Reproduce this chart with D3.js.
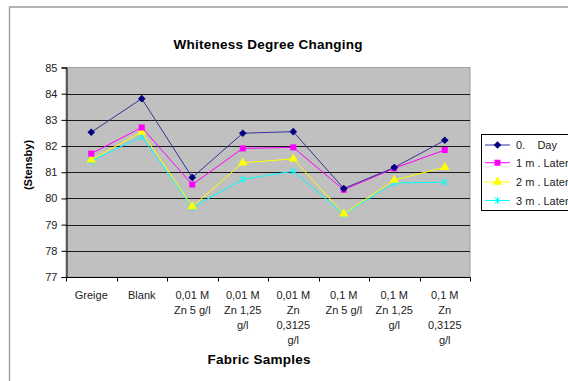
<!DOCTYPE html>
<html><head><meta charset="utf-8">
<script src="https://cdn.jsdelivr.net/npm/d3@7"></script>
<style>
html,body{margin:0;padding:0;background:#fff;overflow:hidden}
svg{display:block;font-family:"Liberation Sans",Arial,sans-serif}
</style></head>
<body>
<svg id="chart" width="568" height="381"></svg>
<script>
// Fabric samples (multi-line category labels)
const categories = [
  ["Greige"],
  ["Blank"],
  ["0,01 M", "Zn 5 g/l"],
  ["0,01 M", "Zn 1,25", "g/l"],
  ["0,01 M", "Zn", "0,3125", "g/l"],
  ["0,1 M", "Zn 5 g/l"],
  ["0,1 M", "Zn 1,25", "g/l"],
  ["0,1 M", "Zn", "0,3125", "g/l"]
];
const day0   = [82.53, 83.81, 80.80, 82.49, 82.55, 80.38, 81.18, 82.22];
const month1 = [81.71, 82.71, 80.53, 81.91, 81.95, 80.33, 81.15, 81.85];
const month2 = [81.48, 82.54, 79.69, 81.36, 81.51, 79.41, 80.70, 81.19];
const month3 = [81.43, 82.36, 79.65, 80.73, 81.04, 79.40, 80.59, 80.62];
const seriesNames = ["0.    Day", "1 m . Later", "2 m . Later", "3 m . Later"];
const yTicks = [77, 78, 79, 80, 81, 82, 83, 84, 85];

const series = [
  {name: seriesNames[0], values: day0,   line: "#333399", fill: "#000080", shape: "diamond"},
  {name: seriesNames[1], values: month1, line: "#ff00ff", fill: "#ff00ff", shape: "square"},
  {name: seriesNames[2], values: month2, line: "#ffff00", fill: "#ffff00", shape: "triangle"},
  {name: seriesNames[3], values: month3, line: "#00ffff", fill: "#00ffff", shape: "x"}
];

const svg = d3.select("#chart");
const plot = {left: 66, right: 470, top: 67.5, bottom: 277};

// outer chart frame
svg.append("path").attr("d", "M9.5,381 V7 H568").attr("fill", "none")
  .attr("stroke", "#9a9a9a").attr("stroke-width", 1.3);

const x = d3.scaleBand().domain(d3.range(categories.length))
  .range([plot.left, plot.right]).padding(0);
const y = d3.scaleLinear().domain([77, 85]).range([plot.bottom, plot.top]);

// plot area
svg.append("rect").attr("x", plot.left).attr("y", plot.top)
  .attr("width", plot.right - plot.left).attr("height", plot.bottom - plot.top)
  .attr("fill", "#c0c0c0").attr("stroke", "#a0a0a0").attr("stroke-width", 1);

// gridlines
svg.append("g").selectAll("line").data(yTicks.filter(t => t > 77 && t < 85)).join("line")
  .attr("x1", plot.left).attr("x2", plot.right)
  .attr("y1", d => Math.round(y(d)) + 0.5).attr("y2", d => Math.round(y(d)) + 0.5)
  .attr("stroke", "#1a1a1a").attr("stroke-width", 1);

// y axis
const yAxis = svg.append("g").attr("transform", `translate(${plot.left + 0.5},0)`)
  .call(d3.axisLeft(y).tickValues(yTicks).tickSize(5).tickPadding(4));
yAxis.select(".domain").attr("stroke", "#000");
yAxis.selectAll(".tick line").attr("stroke", "#000");
yAxis.selectAll(".tick text").attr("font-size", 11).attr("fill", "#222")
  .attr("font-family", "Liberation Sans, Arial, sans-serif");

// x axis with ticks at category boundaries
const xAxisG = svg.append("g").attr("transform", `translate(0,${plot.bottom + 0.5})`);
xAxisG.append("line").attr("x1", plot.left).attr("x2", plot.right + 0.5)
  .attr("stroke", "#000");
xAxisG.selectAll("line.tk").data(d3.range(categories.length + 1)).join("line")
  .attr("class", "tk")
  .attr("x1", i => Math.round(plot.left + i * x.bandwidth()) + 0.5)
  .attr("x2", i => Math.round(plot.left + i * x.bandwidth()) + 0.5)
  .attr("y1", 0).attr("y2", 4).attr("stroke", "#000");
const xl = xAxisG.selectAll("text.cat").data(categories).join("text")
  .attr("class", "cat")
  .attr("text-anchor", "middle").attr("font-size", 11).attr("fill", "#222");
xl.each(function (lines, i) {
  d3.select(this).selectAll("tspan").data(lines).join("tspan")
    .attr("x", x(i) + x.bandwidth() / 2)
    .attr("y", (d, j) => 21.5 + j * 15)
    .text(d => d);
});

// lines and markers
const lineGen = d3.line().x((d, i) => x(i) + x.bandwidth() / 2).y(d => y(d));
const sym = {
  diamond: "M0,-3.8L3.8,0L0,3.8L-3.8,0Z",
  square: d3.symbol().type(d3.symbolSquare).size(36)(),
  triangle: d3.symbol().type(d3.symbolTriangle).size(38)()
};
function drawMarker(g, s, cx, cy) {
  if (s.shape === "x") {
    g.append("path").attr("transform", `translate(${cx},${cy})`)
      .attr("d", "M-3,-3L3,3M-3,3L3,-3M0,-3.5V3.5")
      .attr("stroke", s.fill).attr("stroke-width", 1).attr("fill", "none");
  } else {
    g.append("path").attr("transform", `translate(${cx},${cy})`)
      .attr("d", sym[s.shape]).attr("fill", s.fill);
  }
}
// later series first so day 0 stays on top
series.slice().reverse().forEach(s => {
  const g = svg.append("g");
  g.append("path").datum(s.values).attr("d", lineGen)
    .attr("fill", "none").attr("stroke", s.line).attr("stroke-width", 1);
  s.values.forEach((v, i) => drawMarker(g, s, x(i) + x.bandwidth() / 2, y(v)));
});

// titles
svg.append("text").attr("x", 268).attr("y", 49).attr("text-anchor", "middle")
  .attr("font-size", 13.5).attr("font-weight", "bold")
  .attr("textLength", 189).attr("lengthAdjust", "spacing")
  .text("Whiteness Degree Changing");
svg.append("text").attr("transform", "translate(32,165) rotate(-90)")
  .attr("text-anchor", "middle").attr("font-size", 11).attr("font-weight", "bold")
  .text("(Stensby)");
svg.append("text").attr("x", 259).attr("y", 364).attr("text-anchor", "middle")
  .attr("font-size", 13.5).attr("font-weight", "bold")
  .attr("textLength", 103).attr("lengthAdjust", "spacing")
  .text("Fabric Samples");

// legend
const lg = svg.append("g");
lg.append("rect").attr("x", 481.5).attr("y", 134.5).attr("width", 120).attr("height", 76)
  .attr("fill", "#fff").attr("stroke", "#000").attr("stroke-width", 1);
const legY = [145, 162.7, 182, 200.5];
series.forEach((s, i) => {
  const gy = legY[i];
  lg.append("line").attr("x1", 485).attr("x2", 510).attr("y1", gy).attr("y2", gy)
    .attr("stroke", s.line).attr("stroke-width", 1);
  drawMarker(lg, s, 497.5, gy);
  lg.append("text").attr("x", 516).attr("y", gy + 4).attr("font-size", 11)
    .attr("fill", "#222").style("white-space", "pre").text(s.name);
});
</script>
</body></html>
